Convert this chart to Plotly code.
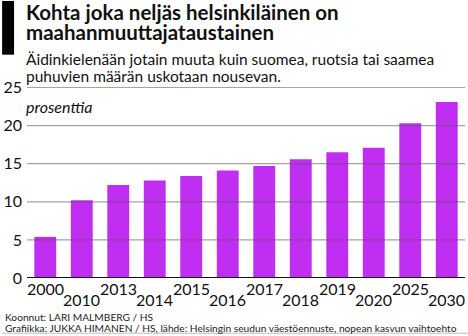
import plotly.graph_objects as go

# Data: share of residents with a mother tongue other than Finnish, Swedish or Sami (%)
years = ["2000", "2010", "2013", "2014", "2015", "2016", "2017", "2018", "2019", "2020", "2025", "2030"]
shares = [5.4, 10.2, 12.2, 12.8, 13.4, 14.1, 14.7, 15.6, 16.5, 17.1, 20.3, 23.1]
y_ticks = [0, 5, 10, 15, 20, 25]

W, H = 468, 336
M_L, M_R, M_T, M_B = 25, 3, 85.5, 57.5
PW, PH = W - M_L - M_R, H - M_T - M_B

FONT = "Lato, 'Open Sans', sans-serif"
BAR = "#C02EF2"


def px(x):
    return (x - M_L) / PW


def py(y):
    return (H - M_B - y) / PH


fig = go.Figure(
    go.Bar(x=years, y=shares, marker=dict(color=BAR, line=dict(width=0)), hoverinfo="skip")
)

shapes = []
# grey gridlines drawn over the bars
for t in y_ticks[1:]:
    shapes.append(dict(type="line", xref="paper", yref="y", x0=0, x1=1, y0=t, y1=t,
                       line=dict(color="rgba(90,90,90,0.55)", width=1.2), layer="above"))
# black baseline
shapes.append(dict(type="line", xref="paper", yref="y", x0=0, x1=1, y0=0, y1=0,
                   line=dict(color="#111", width=2), layer="above"))
# black block beside the headline
shapes.append(dict(type="rect", xref="paper", yref="paper", x0=px(0), x1=px(12),
                   y0=py(54), y1=py(0), fillcolor="#000", line=dict(width=0)))
# thin grey rule at the very bottom
shapes.append(dict(type="line", xref="paper", yref="paper", x0=px(0), x1=px(W),
                   y0=py(334), y1=py(334), line=dict(color="#bbb", width=1)))

annotations = []


def text(s, x, y, size, color="#111", weight="normal", style="normal"):
    annotations.append(dict(text=s, xref="paper", yref="paper", x=px(x), y=py(y),
                            xanchor="left", yanchor="middle", showarrow=False,
                            font=dict(family=FONT, size=size, color=color,
                                      weight=weight, style=style)))


text("Kohta joka neljäs helsinkiläinen on", 22, 11, 20.5, weight="bold")
text("maahanmuuttajataustainen", 22, 31.5, 20.5, weight="bold")
text("Äidinkielenään jotain muuta kuin suomea, ruotsia tai saamea", 22, 58, 15.5)
text("puhuvien määrän uskotaan nousevan.", 22, 75.5, 15.5)
text("prosenttia", 22, 106, 16, style="italic")
text("Koonnut: LARI MALMBERG / HS", 1, 318, 10.2, color="#222")
text("Grafiikka: JUKKA HIMANEN / HS, lähde: Helsingin seudun väestöennuste, nopean kasvun vaihtoehto",
     1, 328.5, 10.2, color="#222")

# staggered year labels under the bars (x given as category index)
for i, yr in enumerate(years):
    annotations.append(dict(text=yr, xref="x", yref="paper", x=i, y=0,
                            yanchor="middle", xanchor="center", showarrow=False,
                            yshift=-10 if i % 2 == 0 else -21.5,
                            font=dict(family=FONT, size=16, color="#111")))

fig.update_layout(
    width=W, height=H,
    margin=dict(l=M_L, r=M_R, t=M_T, b=M_B, pad=0),
    paper_bgcolor="white", plot_bgcolor="white",
    bargap=0.4, showlegend=False,
    shapes=shapes, annotations=annotations,
    xaxis=dict(type="category", range=[-0.5, len(years) - 0.5], showticklabels=False,
               showgrid=False, zeroline=False, showline=False, fixedrange=True),
    yaxis=dict(range=[0, 25.2], tickvals=y_ticks, showgrid=False, zeroline=False,
               showline=False, ticks="", ticklabelstandoff=4,
               tickfont=dict(family=FONT, size=16, color="#111"), fixedrange=True),
)

fig.write_html("out.html", config={"displayModeBar": False})
